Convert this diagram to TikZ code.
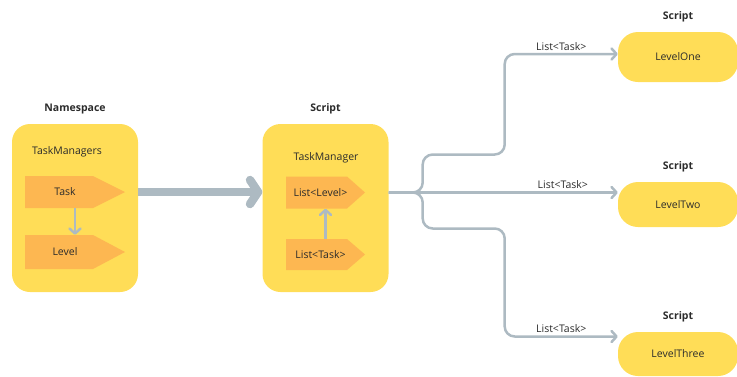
\documentclass[tikz,border=0pt]{standalone}
\usepackage{fontspec}
\setmainfont{Open Sans}
\usetikzlibrary{positioning, arrows.meta}

\definecolor{boxyellow}{HTML}{FFDD57}
\definecolor{tagorange}{HTML}{FDB751}
\definecolor{linkgray}{HTML}{ADBAC2}
\definecolor{inkgray}{HTML}{2B2B2B}

\begin{document}
\begin{tikzpicture}[
            x=1pt, y=-1pt,
            font=\fontsize{10.5}{12}\selectfont, text=inkgray,
            container/.style={fill=boxyellow, rounded corners=18pt, minimum width=126pt, minimum height=168pt},
            target/.style={fill=boxyellow, rounded corners=20pt, minimum width=120pt},
            header/.style={font=\bfseries\fontsize{10.5}{12}\selectfont, inner sep=0pt},
            tag/.style 2 args={minimum width=#1, minimum height=32pt, inner sep=0pt,
                path picture={\fill[tagorange] (path picture bounding box.north west)
                    -- ([xshift=-#2]path picture bounding box.north east)
                    -- (path picture bounding box.east)
                    -- ([xshift=-#2]path picture bounding box.south east)
                    -- (path picture bounding box.south west) -- cycle;}},
            link/.style={draw=linkgray, line width=2.5pt, -{Straight Barb[round, length=5pt, width=11pt]}},
            bigarrow/.style={draw=linkgray, line width=8.5pt, -{Straight Barb[round, length=8pt, width=24pt]}}
        ]
            \useasboundingbox (0,0) rectangle (737,376);

            % namespace box
            \node[container] (ns) at (75,208) {};
            \node[header, above=10pt of ns] {Namespace};
            \node (nsTitle) at (67,152) {TaskManagers};
            \node[tag={100pt}{32pt}, label={[xshift=-10pt]center:Task}] (task) at (75,192) {};
            \node[tag={100pt}{32pt}, minimum height=34pt, label={[xshift=-10pt]center:Level}] (level) at (75,252) {};
            \draw[link] (task) -- (level);

            % manager script
            \node[container] (mgr) at (325.5,208) {};
            \node[header, above=10pt of mgr] {Script};
            \node (mgrTitle) at (326,158) {TaskManager};
            \node[tag={79pt}{18pt}, label={[xshift=-5pt]center:List<Level>}] (listLevel) at (325.5,192.5) {};
            \node[tag={79pt}{18pt}, minimum height=31pt, label={[xshift=-5pt]center:List<Task>}] (listTask) at (325.5,254.5) {};
            \draw[link] (listTask) -- (listLevel);

            \draw[bigarrow] (ns.east |- task) -- (mgr.west |- task);

            % level scripts
            \node[target, minimum height=50pt] (levelOne) at (678,57) {LevelOne};
            \node[header, above=10pt of levelOne] {Script};
            \node[target, minimum height=45pt] (levelTwo) at (678,204.5) {LevelTwo};
            \node[header, above=10pt of levelTwo] {Script};
            \node[target, minimum height=44pt] (levelThree) at (678,354) {LevelThree};
            \node[header, above=10pt of levelThree] {Script};

            \coordinate (fork) at (mgr.east |- listLevel);
            \draw[link, rounded corners=10pt] (fork) -- ++(34,0) -- ++(0,-38) -- ++(82,0)
                |- ([yshift=3pt]levelOne.west) node[pos=0.75, above=-1pt] {List<Task>};
            \draw[link] (fork) -- (levelTwo.west |- fork) node[pos=0.76, above=-1pt] {List<Task>};
            \draw[link, rounded corners=10pt] (fork) -- ++(34,0) -- ++(0,36) -- ++(82,0)
                |- ([yshift=17.5pt]levelThree.west) node[pos=0.75, above=-1pt] {List<Task>};
        \end{tikzpicture}
\end{document}
